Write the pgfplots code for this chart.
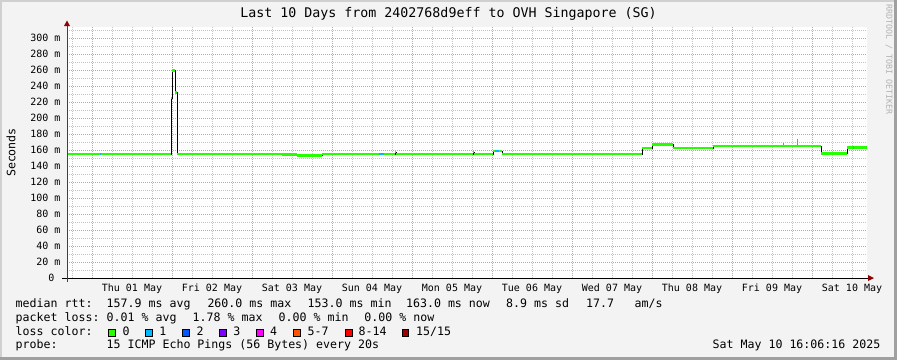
\documentclass[border=0pt]{standalone}
\usepackage{fontspec}
\usepackage{pgfplots}
\usepackage{pgfplotstable}
\pgfplotsset{compat=1.18}
\setmainfont{DejaVu Sans Mono}
\newfontfamily\dvm{DejaVu Sans Mono}
\definecolor{bg}{HTML}{F3F3F3}
\definecolor{bordL}{HTML}{D0D0D0}
\definecolor{bordD}{HTML}{A0A0A0}
\definecolor{gridred}{HTML}{FF8C8C}
\definecolor{gridgrey}{HTML}{C4C4C4}
\definecolor{arrowred}{HTML}{900000}
\definecolor{lc0}{HTML}{26FF00}
\definecolor{lc1}{HTML}{00B8FF}
\definecolor{lc2}{HTML}{0059FF}
\definecolor{lc3}{HTML}{7E00FF}
\definecolor{lc4}{HTML}{FF00FF}
\definecolor{lc5}{HTML}{FF5500}
\definecolor{lc8}{HTML}{FF0000}
\definecolor{lc15}{HTML}{A10000}
\newcommand{\fs}[1]{\fontsize{#1}{#1}\selectfont}

% median rtt (ms) vs hours since Thu 01 May 00:00
\pgfplotstableread{
h v
-7.5 155
23.7 225
24.1 260
25.0 232
25.5 155
57.0 154.5
61.5 153
69.0 155
90.9 157.5
91.2 155
114.3 157.5
114.6 155
120.3 159
123.0 155
165.0 162.5
168.0 167
174.3 162.5
186.3 165
218.7 156
226.5 163
232.5 163
}\median

\begin{document}
\begin{tikzpicture}
\fill[bg] (0,0) rectangle (897pt,-360pt);
\fill[bordL] (0,0) rectangle (897pt,-2pt);
\fill[bordL] (0,0) rectangle (2pt,-360pt);
\fill[bordD] (894pt,0) rectangle (897pt,-360pt);
\fill[bordD] (0,-357pt) rectangle (897pt,-360pt);
\begin{axis}[
  at={(67pt,-278pt)}, anchor=south west,
  scale only axis, width=800pt, height=251pt,
  xmin=-7.5, xmax=232.5, ymin=0, ymax=314,
  axis background/.style={fill=white},
  axis x line*=bottom, axis y line*=left,
  axis line style={draw=none},
  clip=false,
  major tick length=0pt, minor tick length=0pt,
  xtick={12,36,...,228},
  xticklabels={Thu 01 May,Fri 02 May,Sat 03 May,Sun 04 May,Mon 05 May,Tue 06 May,Wed 07 May,Thu 08 May,Fri 09 May,Sat 10 May},
  minor xtick={-6,6,12,18,30,36,42,54,60,66,78,84,90,102,108,114,126,132,138,150,156,162,174,180,186,198,204,210,222,228},
  xminorgrids=true,
  extra x ticks={0,24,...,216},
  extra x tick labels={},
  extra x tick style={grid=major},
  ytick={0,20,...,300},
  yticklabels={0~~,20 m,40 m,60 m,80 m,100 m,120 m,140 m,160 m,180 m,200 m,220 m,240 m,260 m,280 m,300 m},
  minor ytick={10,30,...,310},
  ymajorgrids=true, yminorgrids=true,
  major grid style={gridred, line width=0.5pt, dash pattern=on 1pt off 1pt},
  minor grid style={gridgrey, line width=0.5pt, dash pattern=on 1pt off 1pt},
  tick label style={font=\dvm\fs{10}, inner sep=0pt},
  xticklabel style={anchor=base, yshift=-13pt},
  yticklabel style={anchor=east, xshift=-6.4pt},
  title={Last 10 Days from 2402768d9eff to OVH Singapore (SG)},
  title style={font=\dvm\fs{13.3}, at={(axis description cs:0.4769,1.012)}, anchor=base, inner sep=0pt},
  ylabel={Seconds},
  ylabel style={font=\dvm\fs{11.6}, at={(axis description cs:-0.07,0.5)}, anchor=center, inner sep=0pt},
]
\addplot[black, line width=0.8pt, const plot] table[x=h,y=v] {\median};
\addplot[lc0, line width=2.7pt, jump mark left] table[x=h,y=v] {\median};
\addplot[lc1, line width=2.7pt, unbounded coords=jump] coordinates {(2.4,155)(2.7,155)(3,nan)(86.1,155)(87.6,155)(88,nan)(121,159)(122.1,159)(122.5,nan)(228.2,163)(228.5,163)};
\addplot[black!45, line width=0.8pt, unbounded coords=jump] coordinates {(207.3,166)(207.3,168.5)(207.5,nan)(211.5,166)(211.5,174)};
% axis lines with arrows
\draw[black, line width=0.8pt] ([xshift=-5pt]rel axis cs:0,0) -- ([xshift=1pt]rel axis cs:1,0);
\fill[arrowred] ([xshift=1pt,yshift=3pt]rel axis cs:1,0) -- ([xshift=7pt]rel axis cs:1,0) -- ([xshift=1pt,yshift=-3pt]rel axis cs:1,0) -- cycle;
\draw[black!75, line width=0.8pt] ([yshift=-4pt]rel axis cs:0,0) -- ([yshift=1pt]rel axis cs:0,1);
\fill[arrowred] ([xshift=-3pt,yshift=1pt]rel axis cs:0,1) -- ([yshift=6.5pt]rel axis cs:0,1) -- ([xshift=3pt,yshift=1pt]rel axis cs:0,1) -- cycle;
\end{axis}
\node[rotate=-90, font=\dvm\fs{8.3}, text=black!30, inner sep=0pt] at (889pt,-59.7pt) {RRDTOOL / TOBI OETIKER};
\begin{scope}[every node/.style={inner sep=0pt, anchor=base west, font=\dvm\fs{11.6}}]
\node at (15.5pt,-307.5pt) {median rtt:};
\node at (106.5pt,-307.5pt) {157.9 ms avg};
\node at (207.3pt,-307.5pt) {260.0 ms max};
\node at (307.5pt,-307.5pt) {153.0 ms min};
\node at (405.9pt,-307.5pt) {163.0 ms now};
\node at (506.0pt,-307.5pt) {8.9 ms sd};
\node at (585.9pt,-307.5pt) {17.7};
\node at (634.5pt,-307.5pt) {am/s};
\node at (15.5pt,-321.2pt) {packet loss:};
\node at (106.5pt,-321.2pt) {0.01 \% avg};
\node at (192.5pt,-321.2pt) {1.78 \% max};
\node at (278.5pt,-321.2pt) {0.00 \% min};
\node at (364.2pt,-321.2pt) {0.00 \% now};
\node at (15.5pt,-335pt) {loss color:};
\node at (122.5pt,-335pt) {0};
\node at (159.2pt,-335pt) {1};
\node at (196.5pt,-335pt) {2};
\node at (233.2pt,-335pt) {3};
\node at (269.9pt,-335pt) {4};
\node at (307.5pt,-335pt) {5-7};
\node at (358.5pt,-335pt) {8-14};
\node at (415.9pt,-335pt) {15/15};
\node at (15.5pt,-348.8pt) {probe:};
\node at (106.5pt,-348.8pt) {15 ICMP Echo Pings (56 Bytes) every 20s};
\node[anchor=base east] at (880.5pt,-348.8pt) {Sat May 10 16:06:16 2025};
\end{scope}
\begin{scope}[line width=0.7pt, draw=black]
\filldraw[fill=lc0] (108.7pt,-329pt) rectangle ++(6.6pt,-7.3pt);
\filldraw[fill=lc1] (145.4pt,-329pt) rectangle ++(6.6pt,-7.3pt);
\filldraw[fill=lc2] (182.7pt,-329pt) rectangle ++(6.6pt,-7.3pt);
\filldraw[fill=lc3] (219.7pt,-329pt) rectangle ++(6.6pt,-7.3pt);
\filldraw[fill=lc4] (256.4pt,-329pt) rectangle ++(6.6pt,-7.3pt);
\filldraw[fill=lc5] (293.7pt,-329pt) rectangle ++(6.6pt,-7.3pt);
\filldraw[fill=lc8] (345.4pt,-329pt) rectangle ++(6.6pt,-7.3pt);
\filldraw[fill=lc15] (402.1pt,-329pt) rectangle ++(6.6pt,-7.3pt);
\end{scope}
\pgfresetboundingbox
\useasboundingbox (0,0) rectangle (897pt,-360pt);
\end{tikzpicture}
\end{document}
